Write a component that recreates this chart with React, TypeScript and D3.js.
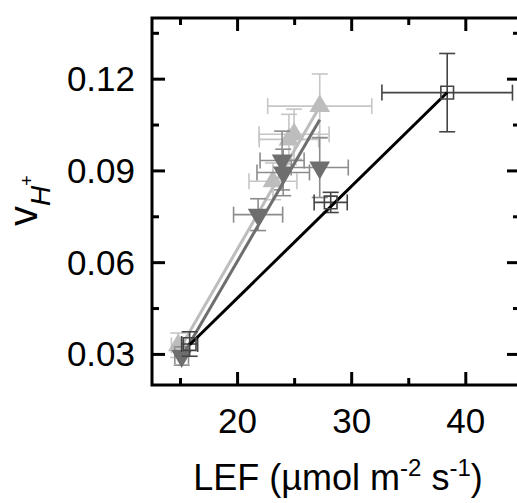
import React from "react";
import * as d3 from "d3";

// light grey up-triangles
const lightX = [14.8, 23.1, 24.5, 24.95, 27.2];
const lightY = [0.033, 0.0866, 0.1003, 0.102, 0.1112];
const lightXErr = [0.6, 2.1, 2.6, 3.07, 4.56];
const lightYErr = [0.004, 0.006, 0.0082, 0.0082, 0.0105];

// dark grey down-triangles
const darkX = [15.1, 21.8, 23.9, 24.0, 27.2];
const darkY = [0.0295, 0.0757, 0.0934, 0.0895, 0.0911];
const darkXErr = [0.6, 2.15, 1.93, 2.3, 2.5];
const darkYErr = [0.003, 0.0052, 0.0096, 0.0076, 0.0098];

// open squares
const squareX = [15.8, 28.16, 38.37];
const squareY = [0.0334, 0.0797, 0.1156];
const squareXErr = [0.7, 1.45, 5.72];
const squareYErr = [0.004, 0.0033, 0.0128];

// linear fits: light, dark, square
const fitSlope = [0.006457, 0.006413, 0.003655];
const fitIntercept = [-0.0646, -0.0677, -0.0246];

const xMajor = [20, 30, 40];
const xMinor = [15, 25, 35];
const yMajor = [0.03, 0.06, 0.09, 0.12];
const yMinor = [0.045, 0.075, 0.105, 0.135];

const W = 517;
const H = 503;
const font = "'Liberation Sans', Arial, sans-serif";

export default function App() {
  const x = d3.scaleLinear().domain([12.5, 44.75]).range([152, 520]);
  const y = d3.scaleLinear().domain([0.02, 0.14]).range([385, 18]);
  const [x0, x1] = x.range();
  const [y0, y1] = y.range();

  const series = [
    { xs: lightX, ys: lightY, xe: lightXErr, ye: lightYErr, err: "#c6c6c6", line: "#bdbdbd", mark: "#bdbdbd", shape: "up", fit: 0 },
    { xs: darkX, ys: darkY, xe: darkXErr, ye: darkYErr, err: "#8c8c8c", line: "#6e6e6e", mark: "#6e6e6e", shape: "down", fit: 1 },
    { xs: squareX, ys: squareY, xe: squareXErr, ye: squareYErr, err: "#444", line: "#000", mark: "#444", shape: "square", fit: 2 },
  ];

  const tri = d3.symbol(d3.symbolTriangle, 185)();
  const sq = d3.symbol(d3.symbolSquare, 160)();
  const cap = 8;

  return (
    <svg width={W} height={H} style={{ position: "absolute", left: 0, top: 0 }} fontFamily={font}>
      <rect width={W} height={H} fill="#fff" />

      {series.map((s, si) => {
        const xmin = d3.min(s.xs)!;
        const xmax = d3.max(s.xs)!;
        const f = (v: number) => fitSlope[s.fit] * v + fitIntercept[s.fit];
        return (
          <g key={si}>
            <g stroke={s.err} strokeWidth={1.6} fill="none">
              {s.xs.map((xv, i) => {
                const cx = x(xv), cy = y(s.ys[i]);
                const l = x(xv - s.xe[i]), r = x(xv + s.xe[i]);
                const t = y(s.ys[i] + s.ye[i]), b = y(s.ys[i] - s.ye[i]);
                return (
                  <g key={i}>
                    <line x1={l} x2={r} y1={cy} y2={cy} />
                    <line x1={l} x2={l} y1={cy - cap} y2={cy + cap} />
                    <line x1={r} x2={r} y1={cy - cap} y2={cy + cap} />
                    <line x1={cx} x2={cx} y1={t} y2={b} />
                    <line x1={cx - cap} x2={cx + cap} y1={t} y2={t} />
                    <line x1={cx - cap} x2={cx + cap} y1={b} y2={b} />
                  </g>
                );
              })}
            </g>
            <line x1={x(xmin)} y1={y(f(xmin))} x2={x(xmax)} y2={y(f(xmax))} stroke={s.line} strokeWidth={3} />
            {s.xs.map((xv, i) => (
              <path
                key={i}
                d={s.shape === "square" ? sq : tri}
                transform={`translate(${x(xv)},${y(s.ys[i])})${s.shape === "down" ? " rotate(180)" : ""}`}
                fill={s.shape === "square" ? "none" : s.mark}
                stroke={s.mark}
                strokeWidth={s.shape === "square" ? 1.6 : 0}
              />
            ))}
          </g>
        );
      })}

      {/* frame */}
      <rect x={x0} y={y1} width={x1 - x0} height={y0 - y1} fill="none" stroke="#000" strokeWidth={3} />

      {/* ticks on all sides, inward */}
      <g stroke="#000" strokeWidth={3}>
        {xMajor.map((v) => (
          <g key={"xM" + v}>
            <line x1={x(v)} x2={x(v)} y1={y0} y2={y0 - 13} />
            <line x1={x(v)} x2={x(v)} y1={y1} y2={y1 + 13} />
          </g>
        ))}
        {xMinor.map((v) => (
          <g key={"xm" + v}>
            <line x1={x(v)} x2={x(v)} y1={y0} y2={y0 - 7} />
            <line x1={x(v)} x2={x(v)} y1={y1} y2={y1 + 7} />
          </g>
        ))}
        {yMajor.map((v) => (
          <g key={"yM" + v}>
            <line x1={x0} x2={x0 + 13} y1={y(v)} y2={y(v)} />
            <line x1={x1} x2={x1 - 13} y1={y(v)} y2={y(v)} />
          </g>
        ))}
        {yMinor.map((v) => (
          <g key={"ym" + v}>
            <line x1={x0} x2={x0 + 7} y1={y(v)} y2={y(v)} />
            <line x1={x1} x2={x1 - 7} y1={y(v)} y2={y(v)} />
          </g>
        ))}
      </g>

      {/* tick labels */}
      <g fontSize={35} fill="#000">
        {xMajor.map((v) => (
          <text key={v} x={x(v)} y={433} textAnchor="middle">{d3.format("d")(v)}</text>
        ))}
        {yMajor.map((v) => (
          <text key={v} x={135} y={y(v) + 12} textAnchor="end">{d3.format(".2f")(v)}</text>
        ))}
      </g>

      {/* axis titles */}
      <text x={338} y={490} textAnchor="middle" fontSize={36}>
        LEF (µmol m<tspan fontSize={24} dy={-14}>-2</tspan>
        <tspan dy={14}> s</tspan>
        <tspan fontSize={24} dy={-14}>-1</tspan>
        <tspan dy={14}>)</tspan>
      </text>
      <text transform="translate(37,226) rotate(-90)" fontSize={40}>
        v
        <tspan fontSize={28} fontStyle="italic" dy={13}>H</tspan>
        <tspan fontSize={18} dy={-17}>+</tspan>
      </text>
    </svg>
  );
}
